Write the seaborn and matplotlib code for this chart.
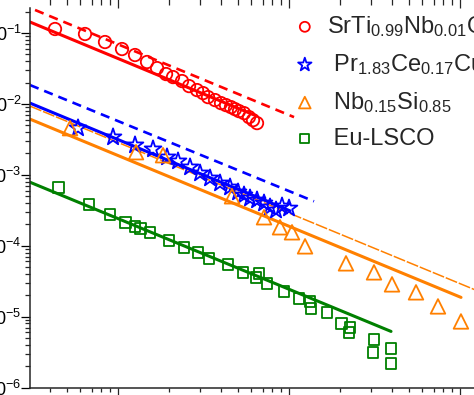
import numpy as np
import matplotlib as mpl
mpl.use('Agg')
import matplotlib.pyplot as plt
import seaborn as sns

sns.set_theme(style='ticks')
plt.rcParams['font.family'] = ['Liberation Sans', 'DejaVu Sans']
plt.rcParams['mathtext.fontset'] = 'custom'
plt.rcParams['mathtext.rm'] = 'Liberation Sans'
plt.rcParams['mathtext.it'] = 'Liberation Sans:italic'
plt.rcParams['mathtext.default'] = 'regular'
plt.rcParams['axes.unicode_minus'] = False

# data
sto_x = [0.428, 0.641, 0.839, 1.055, 1.257, 1.478, 1.691, 1.909, 2.097, 2.367, 2.602, 2.897,
         3.141, 3.360, 3.693, 4.003, 4.281, 4.579, 4.833, 5.101, 5.456, 5.837, 6.159, 6.500]
sto_y = [0.1139, 0.0968, 0.0746, 0.0594, 0.0489, 0.0390, 0.0320, 0.02636, 0.0239, 0.0210,
         0.01784, 0.01567, 0.01421, 0.01247, 0.01132, 0.01026, 0.00962, 0.00901, 0.00844,
         0.00791, 0.00741, 0.00651, 0.00590, 0.00536]

pcco_x = [0.5835, 0.935, 1.257, 1.602, 1.934, 2.243, 2.637, 3.017, 3.451, 3.949, 4.519, 5.033,
          5.456, 5.914, 6.500, 7.142, 7.743, 8.395, 9.101, 10.0]
pcco_y = [0.004551, 0.003396, 0.002618, 0.002300, 0.001772, 0.001556, 0.001281, 0.001053,
          0.000895, 0.000761, 0.000668, 0.000568, 0.000515, 0.000467, 0.000438, 0.000397,
          0.000349, 0.000316, 0.000360, 0.000337]

nbsi_x = [0.524, 1.274, 1.833, 4.642, 7.142, 8.859, 10.41, 12.41, 21.54, 31.41, 40.03, 55.30,
          74.34, 101.3]
nbsi_y = [0.004551, 0.002085, 0.001891, 0.000498, 0.000252, 0.000182, 0.0001546, 9.80e-5,
          5.64e-5, 4.21e-5, 2.85e-5, 2.20e-5, 1.393e-5, 8.55e-6]

lsco_x = [0.4458, 0.6767, 0.8977, 1.099, 1.257, 1.345, 1.538, 1.987, 2.432, 2.937, 3.405, 4.398,
          5.383, 6.412, 6.677, 7.435, 9.350, 11.44, 13.27, 13.45, 16.68, 20.15, 22.74, 22.43,
          31.41, 30.99, 39.50, 39.50]
lsco_y = [0.000668, 0.000384, 0.0002777, 0.0002141, 0.0001879, 0.0001761, 0.0001546, 0.0001192,
          9.49e-5, 8.07e-5, 6.64e-5, 5.46e-5, 4.21e-5, 3.58e-5, 4.08e-5, 2.94e-5, 2.27e-5,
          1.807e-5, 1.640e-5, 1.306e-5, 1.147e-5, 8.02e-6, 7.04e-6, 5.98e-6, 4.76e-6, 3.12e-6,
          3.56e-6, 2.18e-6]

# fit lines (end points)
sto_fit_x, sto_fit_y = [0.3056, 6.3], [0.1429, 0.00693]
sto_dash_x, sto_dash_y = [0.327, 10.7], [0.2113, 0.00651]
pcco_fit_x, pcco_fit_y = [0.3056, 10.14], [0.01026, 0.000310]
pcco_dash_x, pcco_dash_y = [0.3056, 14.0], [0.01845, 0.000423]
nbsi_fit_x, nbsi_fit_y = [0.3056, 101.4], [0.0061, 1.866e-5]
nbsi_dash_x, nbsi_dash_y = [0.3056, 150.0], [0.00931, 1.95e-5]
lsco_fit_x, lsco_fit_y = [0.3056, 39.5], [0.000786, 6.18e-6]

labels = ['SrTi$_{0.99}$Nb$_{0.01}$O$_3$', ' Pr$_{1.83}$Ce$_{0.17}$CuO$_4$',
          ' Nb$_{0.15}$Si$_{0.85}$', ' Eu-LSCO']

red, blue, orange, green = '#ff0000', '#0000ff', '#ff8000', '#008000'

W, H = 474, 395
fig = plt.figure(figsize=(W / 100, H / 100), dpi=100)
ax = fig.add_axes([30 / W, (H - 387.5) / H, 460 / W, 379.5 / H])
ax.set_xscale('log')
ax.set_yscale('log')

sns.lineplot(x=sto_fit_x, y=sto_fit_y, color=red, linewidth=2.2, ax=ax)
sns.lineplot(x=sto_dash_x, y=sto_dash_y, color=red, linewidth=1.9, linestyle=(0, (3.5, 2.3)), ax=ax)
sns.lineplot(x=pcco_fit_x, y=pcco_fit_y, color=blue, linewidth=2.2, ax=ax)
sns.lineplot(x=pcco_dash_x, y=pcco_dash_y, color=blue, linewidth=1.9, linestyle=(0, (3.5, 2.3)), ax=ax)
sns.lineplot(x=nbsi_fit_x, y=nbsi_fit_y, color=orange, linewidth=2.2, ax=ax)
sns.lineplot(x=nbsi_dash_x, y=nbsi_dash_y, color=orange, linewidth=1.1, linestyle=(0, (8, 1.2)), ax=ax)
sns.lineplot(x=lsco_fit_x, y=lsco_fit_y, color=green, linewidth=2.2, ax=ax)

kw = dict(facecolor='none', linewidth=1.3, ax=ax, zorder=3)
sns.scatterplot(x=sto_x, y=sto_y, marker='o', s=80, edgecolor=red, label=labels[0], **kw)
sns.scatterplot(x=pcco_x, y=pcco_y, marker='*', s=160, edgecolor=blue, label=labels[1], **kw)
sns.scatterplot(x=nbsi_x, y=nbsi_y, marker='^', s=110, edgecolor=orange, label=labels[2], **kw)
sns.scatterplot(x=lsco_x, y=lsco_y, marker='s', s=62, edgecolor=green, label=labels[3], **kw)

ax.set_xlim(0.3056, 149.8)
ax.set_ylim(1e-6, 0.2253)

ax.spines['top'].set_visible(False)
for s in ['left', 'bottom', 'right']:
    ax.spines[s].set_linewidth(1.1)
ax.tick_params(axis='y', which='major', direction='out', length=6.5, width=0.9, pad=-0.4,
               labelsize=13, colors='black')
ax.tick_params(axis='y', which='minor', direction='out', length=3.5, width=0.9)
ax.tick_params(axis='x', which='major', direction='out', length=5, width=0.9, labelbottom=False)
ax.tick_params(axis='x', which='minor', direction='out', length=3, width=0.9)
ax.yaxis.set_minor_locator(mpl.ticker.LogLocator(base=10, subs=np.arange(2, 10), numticks=20))
ax.yaxis.set_minor_formatter(mpl.ticker.NullFormatter())

# ticks of the panel above, which is cut off by the crop
top = fig.add_axes([30 / W, (H + 1) / H, 460 / W, 0.2])
top.set_xscale('log')
top.set_xlim(ax.get_xlim())
top.set_yticks([])
for s in ['left', 'top', 'right']:
    top.spines[s].set_visible(False)
top.tick_params(axis='x', which='major', direction='out', length=6.5, width=0.9, labelbottom=False)
top.tick_params(axis='x', which='minor', direction='out', length=4.2, width=0.9)

handles, labs = ax.get_legend_handles_labels()
ax.legend(handles, labs, loc='upper left', bbox_to_anchor=(293 / W, 1 - 14 / H),
          bbox_transform=fig.transFigure, frameon=False, fontsize=17, handlelength=1.0,
          handletextpad=0.45, labelspacing=0.55, borderpad=0, borderaxespad=0,
          markerscale=0.8, scatterpoints=1)

fig.savefig('out.png', dpi=100)
